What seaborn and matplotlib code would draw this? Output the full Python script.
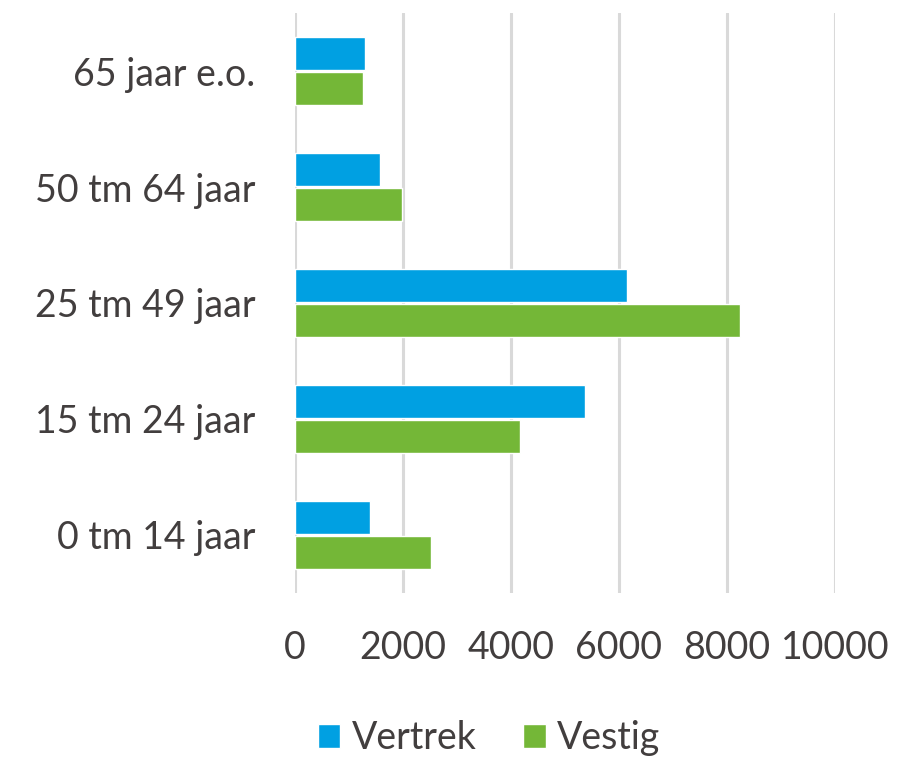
import matplotlib

matplotlib.use("Agg")
import matplotlib.pyplot as plt
import pandas as pd
import seaborn as sns


age_groups = ["65 jaar e.o.", "50 tm 64 jaar", "25 tm 49 jaar", "15 tm 24 jaar", "0 tm 14 jaar"]
vertrek = [1300, 1580, 6150, 5380, 1390]
vestig = [1260, 1980, 8240, 4180, 2520]
x_ticks = [0, 2000, 4000, 6000, 8000, 10000]

BLUE = "#00A0E2"
GREEN = "#74B737"
TEXT = "#423E3E"
GRID = "#D9D9D9"


def build_frame():
    rows = []
    for group, v1, v2 in zip(age_groups, vertrek, vestig):
        rows.append({"groep": group, "soort": "Vertrek", "aantal": v1})
        rows.append({"groep": group, "soort": "Vestig", "aantal": v2})
    return pd.DataFrame(rows)


def main():
    sns.set_theme(style="white")
    plt.rcParams["font.family"] = ["Lato", "DejaVu Sans"]

    df = build_frame()
    fig = plt.figure(figsize=(9.13, 7.7), dpi=100)
    ax = fig.add_axes([0.3226, 0.2299, 0.592, 0.7532])

    sns.barplot(
        data=df, y="groep", x="aantal", hue="soort", order=age_groups,
        hue_order=["Vertrek", "Vestig"], palette={"Vertrek": BLUE, "Vestig": GREEN},
        orient="h", width=0.61, gap=0.07, saturation=1, ax=ax, zorder=3,
    )

    ax.set_xlim(0, 10000)
    ax.set_xticks(x_ticks)
    ax.set_xticklabels([str(t) for t in x_ticks])
    ax.grid(axis="x", color=GRID, linewidth=2.2, zorder=0)
    ax.grid(axis="y", visible=False)
    for spine in ax.spines.values():
        spine.set_visible(False)
    ax.set_xlabel("")
    ax.set_ylabel("")
    ax.tick_params(axis="both", length=0, labelsize=27, labelcolor=TEXT)
    ax.tick_params(axis="x", pad=27)
    ax.tick_params(axis="y", pad=28)

    # legend centred below the plot area
    handles, labels = ax.get_legend_handles_labels()
    ax.legend(
        handles, labels, loc="center", bbox_to_anchor=(489 / 913, 1 - 738 / 770),
        bbox_transform=fig.transFigure, ncol=2, frameon=False, fontsize=27,
        labelcolor=TEXT, handlelength=0.6, handleheight=0.6, handletextpad=0.3,
        columnspacing=1.25,
    )

    fig.savefig("out.png", dpi=100)
    plt.close(fig)


if __name__ == "__main__":
    main()
